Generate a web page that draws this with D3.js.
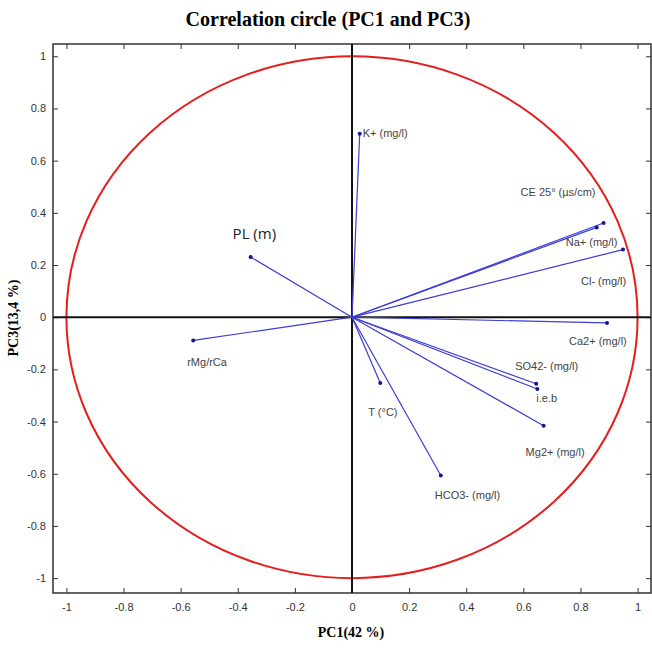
<!DOCTYPE html>
<html>
<head>
    <meta charset="utf-8">
    <title>correlation-circle</title>
    <style>
        body { margin: 0; background: #fff; }
        .tick text { font-family: "Liberation Sans", Arial, sans-serif; font-size: 11px; fill: #333; }
        .tick line { stroke: #333; }
    </style>
</head>
<body>
    <svg width="652" height="656"></svg>

    <script src="https://cdn.jsdelivr.net/npm/d3@7/dist/d3.min.js"></script>
    <script>

    // variables and their loadings on PC1 / PC3
    var variables = ['K+ (mg/l)', 'CE 25° (µs/cm)', 'Na+ (mg/l)', 'Cl- (mg/l)', 'Ca2+ (mg/l)',
        'SO42- (mg/l)', 'i.e.b', 'Mg2+ (mg/l)', 'HCO3- (mg/l)', 'T (°C)', 'PL (m)', 'rMg/rCa']
    var pc1 = [0.027, 0.881, 0.857, 0.949, 0.893, 0.645, 0.649, 0.671, 0.311, 0.099, -0.355, -0.556]
    var pc3 = [0.703, 0.361, 0.344, 0.259, -0.022, -0.255, -0.275, -0.416, -0.607, -0.252, 0.231, -0.089]

    var xTicks = [-1, -0.8, -0.6, -0.4, -0.2, 0, 0.2, 0.4, 0.6, 0.8, 1]
    var yTicks = [-1, -0.8, -0.6, -0.4, -0.2, 0, 0.2, 0.4, 0.6, 0.8, 1]

    // label placement (pixel offset from the arrow tip)
    var labelDx = [3, -83, -31, -42, -38, -21, -1, -18, -6, -12, -18, -6]
    var labelDy = [0, -30, 16, 32, 19, -17, 10, 27, 21, 30, -22, 23]

    var svg = d3.select('svg')

    var x = d3.scaleLinear().domain([-1.047, 1.047]).range([53, 651])
    var y = d3.scaleLinear().domain([-1.057, 1.047]).range([593, 44])

    var fmt = function(d){ return String(d) }

    // axes, ticks pointing inward
    svg.append('g')
        .attr('transform', 'translate(0,' + y.range()[0] + ')')
        .call(d3.axisBottom(x).tickValues(xTicks).tickFormat(fmt).tickSizeInner(-5).tickSizeOuter(0).tickPadding(10))
    svg.append('g')
        .attr('transform', 'translate(0,' + y.range()[1] + ')')
        .call(d3.axisTop(x).tickValues(xTicks).tickFormat('').tickSizeInner(-5).tickSizeOuter(0))
    svg.append('g')
        .attr('transform', 'translate(' + x.range()[0] + ',0)')
        .call(d3.axisLeft(y).tickValues(yTicks).tickFormat(fmt).tickSizeInner(-5).tickSizeOuter(0).tickPadding(7))
    svg.append('g')
        .attr('transform', 'translate(' + x.range()[1] + ',0)')
        .call(d3.axisRight(y).tickValues(yTicks).tickFormat('').tickSizeInner(-5).tickSizeOuter(0))
    svg.selectAll('.domain').remove()

    // frame
    svg.append('rect')
        .attr('x', x.range()[0])
        .attr('y', y.range()[1])
        .attr('width', x.range()[1] - x.range()[0])
        .attr('height', y.range()[0] - y.range()[1])
        .attr('fill', 'none')
        .attr('stroke', '#333')
        .attr('stroke-width', 1.5)

    // unit circle
    svg.append('ellipse')
        .attr('cx', x(0))
        .attr('cy', y(0))
        .attr('rx', x(1) - x(0))
        .attr('ry', y(0) - y(1))
        .attr('fill', 'none')
        .attr('stroke', '#e41e1e')
        .attr('stroke-width', 2)

    // zero lines
    svg.append('line')
        .attr('x1', x.range()[0]).attr('x2', x.range()[1])
        .attr('y1', y(0)).attr('y2', y(0))
        .attr('stroke', '#111').attr('stroke-width', 2)
    svg.append('line')
        .attr('x1', x(0)).attr('x2', x(0))
        .attr('y1', y.range()[0]).attr('y2', y.range()[1])
        .attr('stroke', '#111').attr('stroke-width', 2)

    var idx = d3.range(variables.length)

    svg.selectAll('line.vec')
        .data(idx)
        .enter().append('line')
        .attr('class', 'vec')
        .attr('x1', x(0)).attr('y1', y(0))
        .attr('x2', function(i){ return x(pc1[i]) })
        .attr('y2', function(i){ return y(pc3[i]) })
        .attr('stroke', '#3c3cd6')
        .attr('stroke-width', 1.2)

    svg.selectAll('circle.tip')
        .data(idx)
        .enter().append('circle')
        .attr('class', 'tip')
        .attr('cx', function(i){ return x(pc1[i]) })
        .attr('cy', function(i){ return y(pc3[i]) })
        .attr('r', 2)
        .attr('fill', '#14148c')

    svg.selectAll('text.lab')
        .data(idx)
        .enter().append('text')
        .attr('class', 'lab')
        .attr('x', function(i){ return x(pc1[i]) + labelDx[i] })
        .attr('y', function(i){ return y(pc3[i]) + labelDy[i] })
        .attr('dominant-baseline', 'middle')
        .style('font-family', function(i){ return variables[i] == 'PL (m)' ? '"Open Sans", sans-serif' : '"Liberation Sans", Arial, sans-serif' })
        .style('font-size', function(i){ return variables[i] == 'PL (m)' ? '15px' : '11px' })
        .style('fill', function(i){ return variables[i] == 'PL (m)' ? '#222' : '#444' })
        .text(function(i){ return variables[i] })

    // titles
    svg.append('text')
        .attr('x', 328).attr('y', 26)
        .attr('text-anchor', 'middle')
        .style('font-family', '"Liberation Serif", "Times New Roman", serif')
        .style('font-weight', 'bold')
        .style('font-size', '20px')
        .text('Correlation circle (PC1 and PC3)')

    svg.append('text')
        .attr('x', 351).attr('y', 637)
        .attr('text-anchor', 'middle')
        .style('font-family', '"Liberation Serif", "Times New Roman", serif')
        .style('font-weight', 'bold')
        .style('font-size', '14px')
        .text('PC1(42 %)')

    svg.append('text')
        .attr('transform', 'translate(18,318) rotate(-90)')
        .attr('text-anchor', 'middle')
        .style('font-family', '"Liberation Serif", "Times New Roman", serif')
        .style('font-weight', 'bold')
        .style('font-size', '14px')
        .text('PC3(13,4 %)')

    </script>
</body>
</html>
